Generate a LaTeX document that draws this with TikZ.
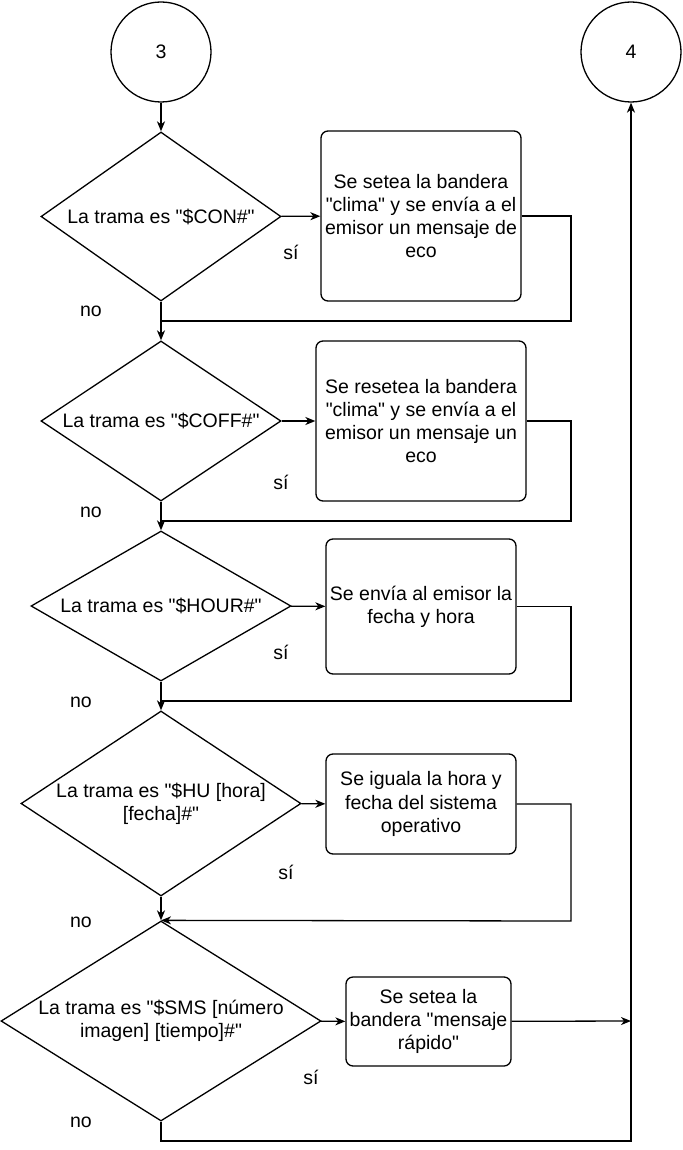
\documentclass[tikz,border=0pt]{standalone}
\usepackage{fontspec}
\setmainfont{Liberation Sans}[Ligatures=TeXOff]
\usetikzlibrary{shapes.geometric,arrows.meta}
\begin{document}
\begin{tikzpicture}[x=1pt,y=-1pt,
  every node/.style={font=\fontsize{19.5}{23.3}\selectfont},
  ln/.style={line width=1.3pt},
  arr/.style={ln,-{Stealth[length=10pt,width=8pt,inset=3pt]}},
  conn/.style={circle,draw,line width=1.3pt,minimum size=100pt,inner sep=0pt},
  dec/.style={diamond,draw,line width=1.3pt,inner sep=0pt},
  proc/.style={rectangle,rounded corners=7pt,draw,line width=1.3pt,align=center,inner sep=0pt},
  lbl/.style={inner sep=0pt}]
\useasboundingbox (0,0) rectangle (682,1150);

% connectors (circles)
\node[conn] (c3) at (161,52) {3};
\node[conn] (c4) at (631,52) {4};

% decisions
\node[dec,minimum width=240pt,minimum height=169pt,
  label={[align=center]center:{La trama es "\$CON\#"}}] (d1) at (161,216.5) {};
\node[dec,minimum width=240pt,minimum height=160pt,
  label={[align=center]center:{La trama es "\$COFF\#"}}] (d2) at (161,421) {};
\node[dec,minimum width=260pt,minimum height=150pt,
  label={[align=center]center:{La trama es "\$HOUR\#"}}] (d3) at (161,606) {};
\node[dec,minimum width=280pt,minimum height=185pt,
  label={[align=center]center:{La trama es "\$HU [hora]\\{}[fecha]\#"}}] (d4) at (161,803.5) {};
\node[dec,minimum width=320pt,minimum height=200pt,
  label={[align=center]center:{La trama es "\$SMS [número\\{}imagen] [tiempo]\#"}}] (d5) at (161,1021) {};

% processes
\node[proc,minimum width=200pt,minimum height=170pt] (b1) at (421,216)
  {Se setea la bandera\\"clima" y se envía a el\\emisor un mensaje de\\eco};
\node[proc,minimum width=210pt,minimum height=160pt] (b2) at (421,421)
  {Se resetea la bandera\\"clima" y se envía a el\\emisor un mensaje un\\eco};
\node[proc,minimum width=190pt,minimum height=135pt] (b3) at (421,606.5)
  {Se envía al emisor la\\fecha y hora};
\node[proc,minimum width=190pt,minimum height=100pt] (b4) at (421,804)
  {Se iguala la hora y\\fecha del sistema\\operativo};
\node[proc,minimum width=165pt,minimum height=89pt] (b5) at (428.5,1021.5)
  {Se setea la\\bandera "mensaje\\rápido"};

% helper coordinates
\coordinate (r1) at (571,321); \coordinate (j1) at (161,321);
\coordinate (r2) at (571,521); \coordinate (j2) at (161,521);
\coordinate (r3) at (571,701); \coordinate (j3) at (161,701);
\coordinate (r4) at (571,921);
\coordinate (m5) at (631,1021);
\coordinate (k5) at (631,1141);

% flow
\draw[arr] (c3) -- (d1);
\draw[arr] (d1) -- (b1);
\draw[arr] (d1) -- (d2);
\draw[ln] (b1.east) -| (r1) -- (j1);

\draw[arr] (d2) -- (b2);
\draw[arr] (d2) -- (d3);
\draw[ln] (b2.east) -| (r2) -- (j2);

\draw[arr] (d3) -- (b3);
\draw[arr] (d3) -- (d4);
\draw[ln] (b3.east) -| (r3) -- (j3);

\draw[arr] (d4) -- (b4);
\draw[arr] (d4) -- (d5);
\draw[arr] (b4.east) -| (r4) -- (d5.north);

\draw[arr] (d5) -- (b5);
\draw[arr] (b5) -- (m5);
\draw[arr] (d5.south) |- (k5) -- (c4.south);

% branch labels
\node[lbl] (s1) at (291,252) {sí};
\node[lbl] (n1) at (91,311) {no};
\node[lbl] (s2) at (281,482) {sí};
\node[lbl] (n2) at (91,512) {no};
\node[lbl] (s3) at (281,652) {sí};
\node[lbl] (n3) at (81,702) {no};
\node[lbl] (s4) at (286,872) {sí};
\node[lbl] (n4) at (81,922) {no};
\node[lbl] (s5) at (311,1077) {sí};
\node[lbl] (n5) at (81,1122) {no};
\end{tikzpicture}
\end{document}
